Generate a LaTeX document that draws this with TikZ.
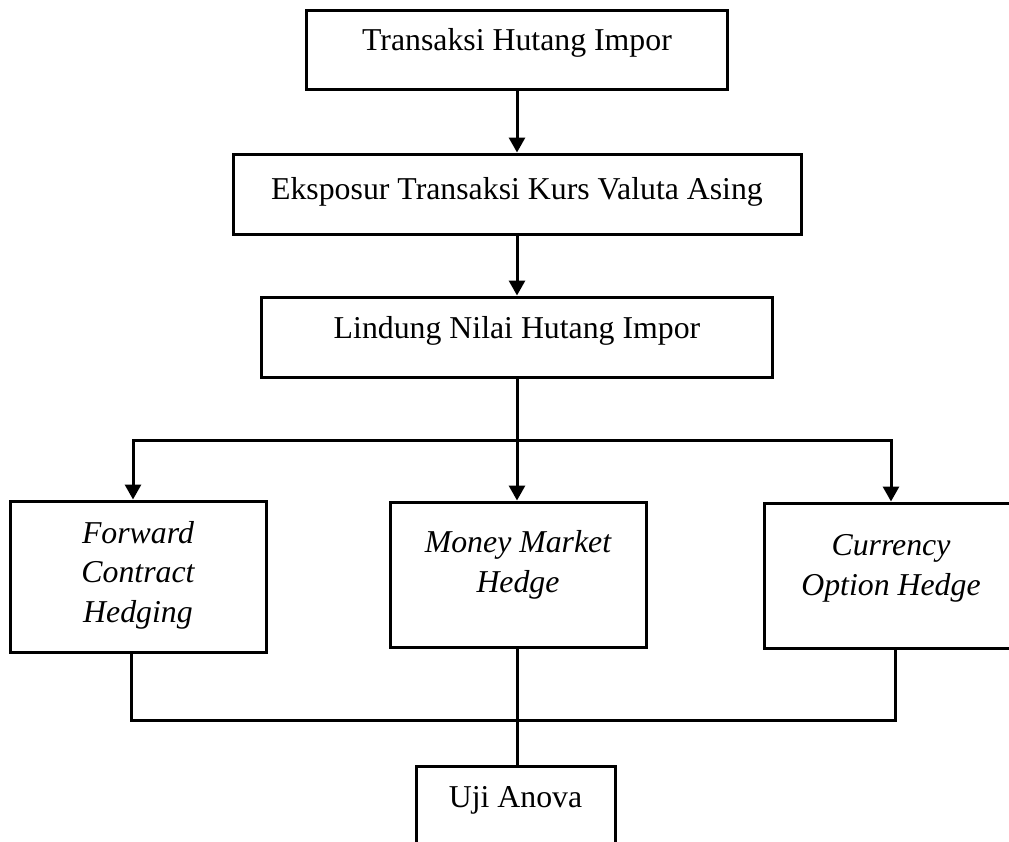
\documentclass[tikz,border=0pt]{standalone}
\usepackage{fontspec}
\setmainfont{Liberation Serif}
\usepackage{tikz}
\usetikzlibrary{arrows.meta,positioning}

\tikzset{
  box/.style={draw,line width=3pt,inner sep=0pt,align=center,
    font=\fontsize{31.8}{39.5}\selectfont},
  flow/.style={-{Triangle[width=16pt,length=15pt]},line width=3pt},
  link/.style={-,line width=3pt}
}

\begin{document}
\begin{tikzpicture}[x=1pt,y=-1pt]
\clip (0,0) rectangle (1009,841);
\node[box,minimum width=421pt,text height=40pt,text depth=39pt] (impor) at (517,49.5) {Transaksi Hutang Impor};
\node[box,minimum width=568pt,text height=45pt,text depth=35pt] (exposure) at (517,194) {Eksposur Transaksi Kurs Valuta Asing};
\node[box,minimum width=511pt,text height=41pt,text depth=39pt] (hedge) at (517,337) {Lindung Nilai Hutang Impor};
\node[box,minimum width=256pt,text height=121pt,text depth=30pt,font=\fontsize{31.8}{39.5}\selectfont\itshape] (forward) at (138,576.5) {Forward\\Contract\\Hedging};
\node[box,minimum width=256pt,text height=90pt,text depth=55pt,font=\fontsize{31.8}{39.5}\selectfont\itshape] (money) at (518,574.5) {Money Market\\Hedge};
\node[box,minimum width=254pt,text height=92pt,text depth=53pt,font=\fontsize{31.8}{39.5}\selectfont\itshape] (currency) at (891,575.5) {Currency\\Option Hedge};
\node[box,minimum width=199pt,text height=41pt,text depth=93pt] (uji) at (515.5,833) {Uji Anova};
\coordinate (split) at (517,440);
\coordinate (merge) at (517,720);
\draw[flow] (impor) -- (exposure);
\draw[flow] (exposure) -- (hedge);
\draw[link] (hedge.south) -- (split);
\draw[flow] (split) -| ([xshift=-5pt]forward.north);
\draw[flow] (split) -- (split |- money.north);
\draw[flow] (split) -| (currency.north);
\draw[link] ([xshift=-7pt]forward.south) |- (merge) -| ([xshift=4pt]currency.south);
\draw[link] (merge |- money.south) -- (merge |- uji.north);
\end{tikzpicture}
\end{document}
